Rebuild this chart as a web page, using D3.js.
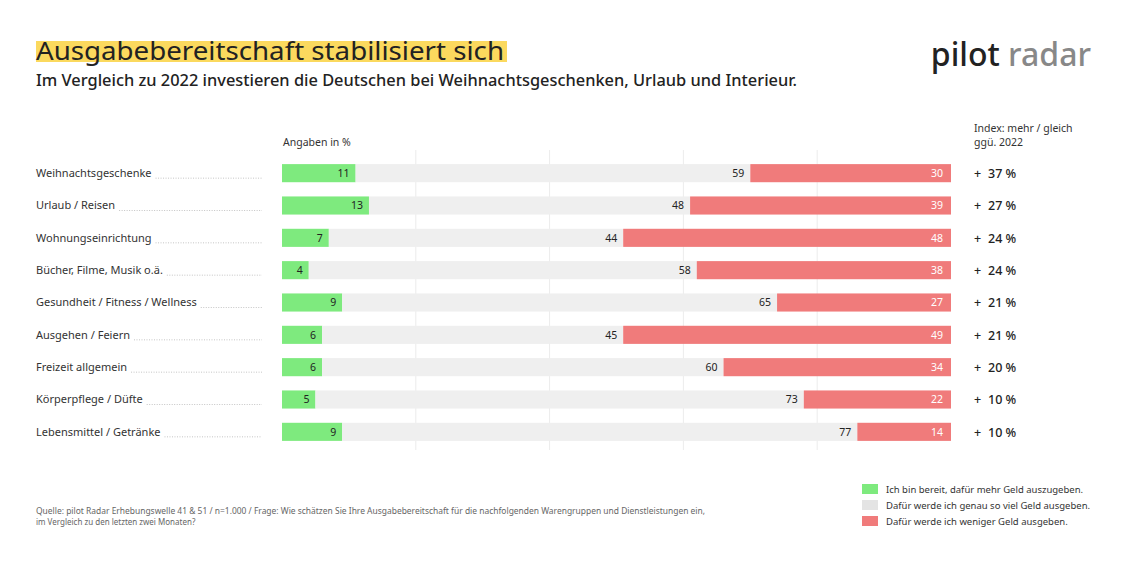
<!DOCTYPE html>
<html lang="de">
<head>
<meta charset="utf-8">
<script src="https://d3js.org/d3.v7.min.js"></script>
<style>
  body { margin: 0; background: #fff; font-family: 'Noto Sans', sans-serif; }
</style>
</head>
<body>
<svg id="chart"></svg>
<script>
var kategorien = ["Weihnachtsgeschenke", "Urlaub / Reisen", "Wohnungseinrichtung", "Bücher, Filme, Musik o.ä.",
  "Gesundheit / Fitness / Wellness", "Ausgehen / Feiern", "Freizeit allgemein", "Körperpflege / Düfte", "Lebensmittel / Getränke"];
var mehr = [11, 13, 7, 4, 9, 6, 6, 5, 9];
var gleich = [59, 48, 44, 58, 65, 45, 60, 73, 77];
var weniger = [30, 39, 48, 38, 27, 49, 34, 22, 14];
var index = ["37", "27", "24", "24", "21", "21", "20", "10", "10"];
var legende = ["Ich bin bereit, dafür mehr Geld auszugeben.", "Dafür werde ich genau so viel Geld ausgeben.", "Dafür werde ich weniger Geld ausgeben."];
var farben = ["#7eea7e", "#efefef", "#f07b7b"];

var W = 1128, H = 564;
var svg = d3.select("#chart").attr("width", W).attr("height", H);

// Titel
svg.append("rect").attr("x", 36).attr("y", 41).attr("width", 471).attr("height", 21).attr("fill", "#fbd95e");
svg.append("text").attr("x", 36).attr("y", 60).attr("font-size", 25).attr("fill", "#222")
  .attr("textLength", 468).attr("lengthAdjust", "spacingAndGlyphs").text("Ausgabebereitschaft stabilisiert sich");
svg.append("text").attr("x", 36).attr("y", 86).attr("font-size", 16).attr("font-weight", 500).attr("fill", "#222")
  .attr("textLength", 761).attr("lengthAdjust", "spacingAndGlyphs")
  .text("Im Vergleich zu 2022 investieren die Deutschen bei Weihnachtsgeschenken, Urlaub und Interieur.");
svg.append("text").attr("x", 1091).attr("y", 66).attr("text-anchor", "end").attr("font-size", 32).attr("font-weight", 500)
  .html('<tspan fill="#222">pilot</tspan><tspan fill="#888"> radar</tspan>');

var x = d3.scaleLinear().domain([0, 100]).range([282, 951]);
var y = d3.scaleBand().domain(kategorien).range([157, 448]).paddingInner(0.44).paddingOuter(0.22);

// Gitterlinien
svg.selectAll(".grid").data([20, 40, 60, 80]).enter().append("line")
  .attr("x1", d => x(d)).attr("x2", d => x(d)).attr("y1", 150).attr("y2", 450)
  .attr("stroke", "#ececec").attr("stroke-width", 1);

svg.append("text").attr("x", 283).attr("y", 146).attr("font-size", 10.5).attr("fill", "#333").text("Angaben in %");
svg.append("text").attr("x", 974).attr("y", 132).attr("font-size", 10.5).attr("fill", "#333").text("Index: mehr / gleich");
svg.append("text").attr("x", 974).attr("y", 146).attr("font-size", 10.5).attr("fill", "#333").text("ggü. 2022");

var daten = kategorien.map((k, i) => ({ k: k, m: mehr[i], g: gleich[i], w: weniger[i], idx: index[i] }));
var row = svg.selectAll(".row").data(daten).enter().append("g").attr("transform", d => "translate(0," + y(d.k) + ")");
var bh = y.bandwidth();

row.append("text").attr("class", "lab").attr("x", 36).attr("y", bh / 2 + 4).attr("font-size", 11).attr("fill", "#333").text(d => d.k);
row.each(function () {
  var g = d3.select(this), w = g.select(".lab").node().getComputedTextLength();
  g.append("line").attr("x1", 36 + w + 4).attr("x2", 262).attr("y1", bh / 2 + 5).attr("y2", bh / 2 + 5)
    .attr("stroke", "#c4c4c4").attr("stroke-dasharray", "1,1.5");
});

row.append("rect").attr("x", x(0)).attr("width", d => x(d.m) - x(0)).attr("height", bh).attr("fill", farben[0]);
row.append("rect").attr("x", d => x(d.m)).attr("width", d => x(d.m + d.g) - x(d.m)).attr("height", bh).attr("fill", farben[1]);
row.append("rect").attr("x", d => x(d.m + d.g)).attr("width", d => x(100) - x(d.m + d.g)).attr("height", bh).attr("fill", farben[2]);

row.append("text").attr("x", d => x(d.m) - 6).attr("y", bh / 2 + 4).attr("text-anchor", "end").attr("font-size", 10.5).attr("fill", "#222").text(d => d.m);
row.append("text").attr("x", d => x(d.m + d.g) - 6).attr("y", bh / 2 + 4).attr("text-anchor", "end").attr("font-size", 10.5).attr("fill", "#222").text(d => d.g);
row.append("text").attr("x", x(100) - 8).attr("y", bh / 2 + 4).attr("text-anchor", "end").attr("font-size", 10.5).attr("fill", "#fff").text(d => d.w);
row.append("text").attr("x", 974).attr("y", bh / 2 + 5).attr("font-size", 12.5).attr("font-weight", 500).attr("fill", "#222").text("+");
row.append("text").attr("x", 988).attr("y", bh / 2 + 5).attr("font-size", 12.5).attr("font-weight", 500).attr("fill", "#222").text(d => d.idx + " %");

// Legende
var lg = svg.selectAll(".lg").data(legende).enter().append("g").attr("transform", (d, i) => "translate(862," + (484 + i * 16) + ")");
lg.append("rect").attr("width", 16).attr("height", 10).attr("fill", (d, i) => farben[i] === "#efefef" ? "#e4e4e4" : farben[i]);
lg.append("text").attr("x", 24).attr("y", 9).attr("font-size", 9.5).attr("fill", "#333").text(d => d);

// Quelle
svg.append("text").attr("x", 36).attr("y", 514).attr("font-size", 8).attr("fill", "#666")
  .attr("textLength", 669).attr("lengthAdjust", "spacingAndGlyphs")
  .text("Quelle: pilot Radar Erhebungswelle 41 & 51 / n=1.000 / Frage: Wie schätzen Sie Ihre Ausgabebereitschaft für die nachfolgenden Warengruppen und Dienstleistungen ein,");
svg.append("text").attr("x", 36).attr("y", 525).attr("font-size", 8).attr("fill", "#666").text("im Vergleich zu den letzten zwei Monaten?");
</script>
</body>
</html>
